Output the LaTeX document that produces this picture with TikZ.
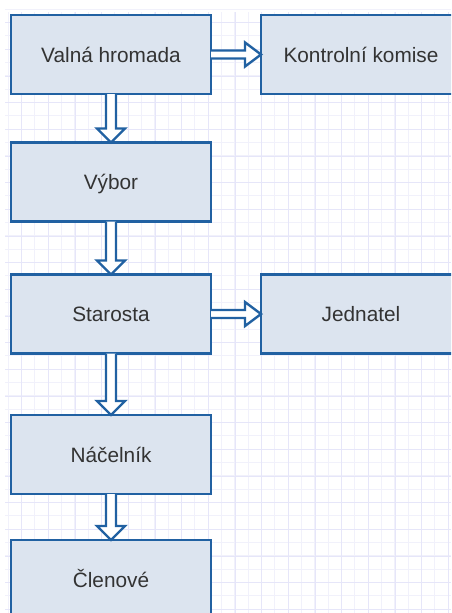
\documentclass[tikz,border=0pt]{standalone}
\usepackage{fontspec}
\setmainfont{Liberation Sans}
\usetikzlibrary{calc}

\definecolor{boxline}{HTML}{2161A2}
\definecolor{boxfill}{HTML}{DCE4EF}
\definecolor{boxtext}{HTML}{333333}
\definecolor{gridminor}{HTML}{F1F1FB}
\definecolor{gridmajor}{HTML}{E6E6F9}

\begin{document}
\begin{tikzpicture}
[
x=1pt,y=-1pt,
pointerpath/.style={boxline,line width=2.4pt,fill=white,line join=miter},
every node/.style={draw=boxline,line width=2.8pt,fill=boxfill,
  text=boxtext,font=\fontsize{20.8}{24}\selectfont,
  minimum width=200pt,minimum height=79pt,inner sep=0pt,outer sep=0pt,
  text height=15pt,text depth=0pt}
]

\clip (0,0) rectangle (451,613);
\fill[white] (0,0) rectangle (451,613);

\foreach \i in {0,...,33} {
  \draw[gridminor,line width=1pt] (8.3+13.33*\i,12) -- (8.3+13.33*\i,613);
}
\foreach \i in {0,...,45} {
  \draw[gridminor,line width=1pt] (5,9.3+13.33*\i) -- (451,9.3+13.33*\i);
}
\foreach \i in {0,...,16} {
  \draw[gridmajor,line width=1pt] (21.7+26.67*\i,12) -- (21.7+26.67*\i,613);
}
\foreach \i in {0,...,22} {
  \draw[gridmajor,line width=1pt] (5,22.7+26.67*\i) -- (451,22.7+26.67*\i);
}

\node (valna) at (111,54.5) {Valná hromada};
\node (komise) at (361,54.5) {Kontrolní komise};
\node (vybor) at (111,182) {Výbor};
\node (starosta) at (111,314) {Starosta};
\node (jednatel) at (361,314) {Jednatel};
\node (nacelnik) at (111,454.5) {Náčelník};
\node (clenove) at (111,579.5) {Členové};

\foreach \a/\b in {valna/vybor,vybor/starosta,starosta/nacelnik,nacelnik/clenove} {
  \draw[pointerpath] ($(\a.south)+(-5,0)$) -- ($(\b.north)+(-5,-14)$) -- ++(-9,0)
    -- (\b.north) -- ($(\b.north)+(14,-14)$) -- ++(-9,0) -- ($(\a.south)+(5,0)$);
}
\foreach \a/\b in {valna/komise,starosta/jednatel} {
  \draw[pointerpath] ($(\a.east)+(0,-4)$) -- ($(\b.west)+(-16,-4)$) -- ++(0,-8)
    -- (\b.west) -- ($(\b.west)+(-16,12)$) -- ++(0,-8) -- ($(\a.east)+(0,4)$);
}

\end{tikzpicture}
\end{document}
